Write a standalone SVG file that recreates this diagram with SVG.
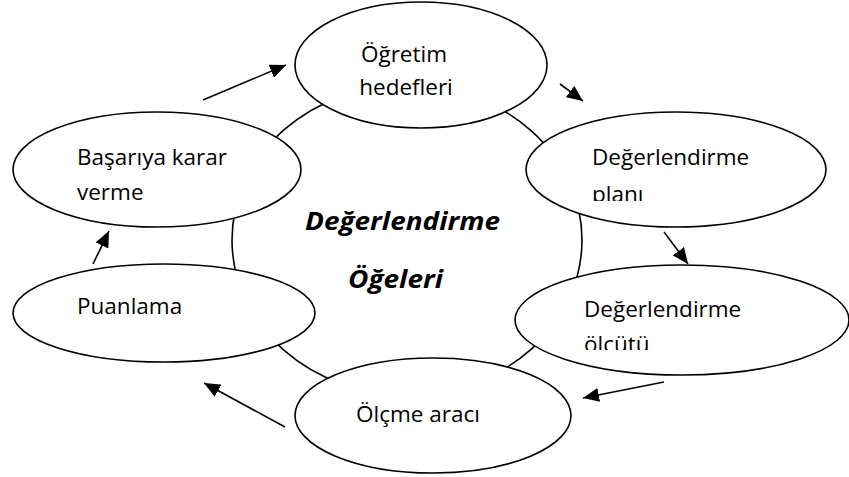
<svg xmlns="http://www.w3.org/2000/svg" width="849" height="477" viewBox="0 0 849 477">
<style>
.n{fill:#fff;stroke:#000;stroke-width:1.6}
.t{font-family:"Open Sans","Liberation Sans",sans-serif;font-size:22.5px;fill:#000}
.c{font-family:"Open Sans","Liberation Sans",sans-serif;font-size:25px;font-weight:bold;font-style:italic;fill:#000}
.a{stroke:#000;stroke-width:1.6;fill:none;marker-end:url(#ah)}
</style>
<defs>
<marker id="ah" markerUnits="userSpaceOnUse" markerWidth="16" markerHeight="14" viewBox="0 0 16 14" refX="16" refY="7" orient="auto">
<path d="M0,0 L16,7 L0,14 Z" fill="#000"/>
</marker>
<clipPath id="cp1"><rect x="500" y="100" width="340" height="101"/></clipPath>
<clipPath id="cp2"><rect x="500" y="260" width="349" height="90"/></clipPath>
</defs>
<g id="ring"><ellipse cx="407" cy="240" rx="175" ry="155" fill="none" stroke="#000" stroke-width="1.6"/></g>
<g id="center-label">
<text class="c" x="305" y="230" textLength="195" lengthAdjust="spacingAndGlyphs">Değerlendirme</text>
<text class="c" x="348" y="288" textLength="95" lengthAdjust="spacingAndGlyphs">Öğeleri</text>
</g>
<g id="ogretim-hedefleri">
<ellipse class="n" cx="421" cy="65" rx="126" ry="63"/>
<text class="t" x="404" y="62" text-anchor="middle">Öğretim</text>
<text class="t" x="406" y="95" text-anchor="middle">hedefleri</text>
</g>
<g id="degerlendirme-plani">
<ellipse class="n" cx="676" cy="169.5" rx="150" ry="57.5"/>
<g clip-path="url(#cp1)">
<text class="t" x="592" y="165">Değerlendirme</text>
<text class="t" x="592" y="202">planı</text>
</g>
</g>
<g id="degerlendirme-olcutu">
<ellipse class="n" cx="682" cy="320" rx="167" ry="55"/>
<g clip-path="url(#cp2)">
<text class="t" x="584" y="317">Değerlendirme</text>
<text class="t" x="584" y="352">ölçütü</text>
</g>
</g>
<g id="olcme-araci">
<ellipse class="n" cx="433" cy="415.5" rx="138" ry="57.5"/>
<text class="t" x="356" y="422">Ölçme aracı</text>
</g>
<g id="puanlama">
<ellipse class="n" cx="164" cy="313" rx="151" ry="49"/>
<text class="t" x="77" y="314">Puanlama</text>
</g>
<g id="basariya-karar-verme">
<ellipse class="n" cx="157" cy="169.5" rx="144" ry="57.5"/>
<text class="t" x="77" y="165">Başarıya karar</text>
<text class="t" x="77" y="200">verme</text>
</g>
<g id="connectors">
<line class="a" x1="203" y1="100" x2="286" y2="65"/>
<line class="a" x1="560" y1="84" x2="583" y2="101"/>
<line class="a" x1="664" y1="232" x2="688" y2="264"/>
<line class="a" x1="664" y1="382" x2="583" y2="398"/>
<line class="a" x1="285" y1="427" x2="204" y2="383"/>
<line class="a" x1="93" y1="264" x2="109" y2="231"/>
</g>
</svg>
